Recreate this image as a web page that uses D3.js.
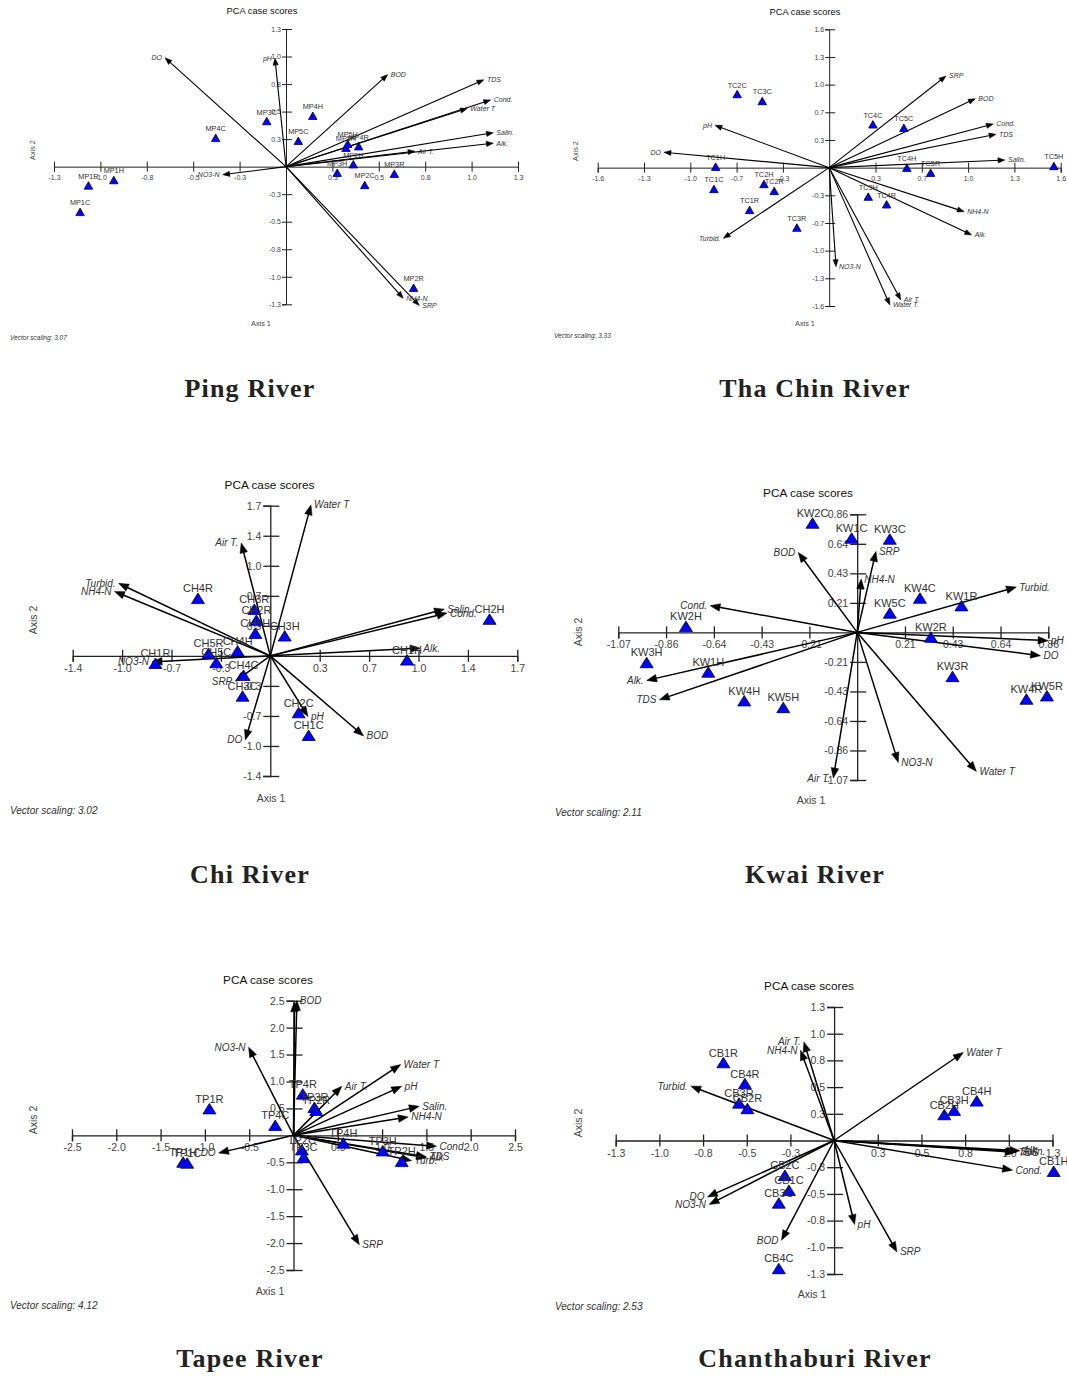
<!DOCTYPE html>
<html><head><meta charset="utf-8">
<script src="https://cdn.jsdelivr.net/npm/d3@7"></script>
<style>body{margin:0;background:#fff}svg{display:block}</style>
</head><body>
<svg id="c" width="1067" height="1379"></svg>
<script>
// ---------- DATA ----------
const riverNames = ["Ping River","Tha Chin River","Chi River","Kwai River","Tapee River","Chanthaburi River"];
const vectorScaling = ["3.07","3.33","3.02","2.11","4.12","2.53"];

const pingTicks = [-1.3,-1.04,-0.78,-0.52,-0.26,0.26,0.52,0.78,1.04,1.3];
const pingTickLabels = ["-1.3","-1.0","-0.8","-0.5","-0.3","0.3","0.5","0.8","1.0","1.3"];
const pingVectors = [["DO",-0.678,1.028],["pH",-0.062,1.025],["BOD",0.570,0.870],["TDS",1.109,0.820],["Cond.",1.147,0.630],["Water T",1.016,0.550],["Salin.",1.162,0.320],["Alk.",1.162,0.222],["Air T.",0.723,0.146],["NO3-N",-0.355,-0.076],["NH4-N",0.657,-1.243],["SRP",0.747,-1.312]];
const pingSites = [["MP1C",-1.154,-0.427],["MP1R",-1.107,-0.177],["MP1H",-0.965,-0.126],["MP4C",-0.394,0.272],["MP3C",-0.108,0.431],["MP4H",0.150,0.481],["MP5C",0.069,0.244],["MP5R",0.336,0.179],["MP5H",0.346,0.217],["MP4R",0.407,0.193],["MP2H",0.377,0.023],["MP3H",0.287,-0.057],["MP2C",0.441,-0.173],["MP3R",0.607,-0.066],["MP2R",0.715,-1.143]];

const thachinTicks = [-1.625,-1.3,-0.975,-0.65,-0.325,0.325,0.65,0.975,1.3,1.625];
const thachinTickLabels = ["-1.6","-1.3","-1.0","-0.7","-0.3","0.3","0.7","1.0","1.3","1.6"];
const thachinVectors = [["SRP",0.820,1.077],["BOD",1.026,0.810],["Cond.",1.152,0.513],["TDS",1.171,0.392],["Salin.",1.234,0.090],["NH4-N",0.948,-0.517],["Alk.",1.000,-0.791],["NO3-N",0.048,-1.163],["Air T.",0.503,-1.554],["Water T.",0.426,-1.613],["pH",-0.802,0.497],["DO",-1.160,0.180],["Turbid.",-0.743,-0.830]];
const thachinSites = [["TC2C",-0.646,0.865],["TC3C",-0.470,0.783],["TC1H",-0.797,0.012],["TC1C",-0.809,-0.250],["TC2H",-0.458,-0.191],["TC2R",-0.386,-0.273],["TC1R",-0.559,-0.496],["TC3R",-0.227,-0.704],["TC4C",0.307,0.509],["TC5C",0.524,0.469],["TC4H",0.545,0.0],["TC5R",0.712,-0.059],["TC5H",1.577,0.020],["TC3H",0.274,-0.340],["TC4R",0.403,-0.430]];

const chiTicks = [-1.36,-1.02,-0.68,-0.34,0.34,0.68,1.02,1.36,1.7];
const chiTickLabels = ["-1.4","-1.0","-0.7","-0.3","0.3","0.7","1.0","1.4","1.7"];
const chiVectors = [["Water T",0.280,1.709],["Air T.",-0.200,1.278],["Turbid.",-1.044,0.821],["NH4-N",-1.072,0.730],["NO3-N",-0.814,-0.068],["SRP",-0.241,-0.287],["DO",-0.172,-0.952],["Cond.",1.216,0.484],["Salin.",1.198,0.529],["Alk.",1.032,0.087],["pH",0.259,-0.687],["BOD",0.642,-0.907]];
const chiSites = [["CH4R",-0.498,0.651],["CH3R",-0.110,0.529],["CH2R",-0.096,0.405],["CH5H",-0.103,0.257],["CH4H",-0.225,0.057],["CH5R",-0.425,0.031],["CH5C",-0.372,-0.075],["CH1R",-0.791,-0.083],["CH4C",-0.184,-0.219],["CH3C",-0.191,-0.454],["CH3H",0.099,0.227],["CH1H",0.941,-0.045],["CH2H",1.509,0.416],["CH2C",0.195,-0.642],["CH1C",0.264,-0.899]];

const kwaiTicks = [-1.07,-0.856,-0.642,-0.428,-0.214,0.214,0.428,0.642,0.856];
const kwaiTickLabels = ["-1.07","-0.86","-0.64","-0.43","-0.21","0.21","0.43","0.64","0.86"];
const kwaiVectors = [["BOD",-0.264,0.580],["SRP",0.084,0.587],["NH4-N",0.018,0.387],["Turbid.",0.713,0.329],["pH",0.855,-0.060],["DO",0.821,-0.169],["Water T",0.534,-1.008],["NO3-N",0.184,-0.943],["Air T.",-0.107,-1.056],["Cond.",-0.659,0.194],["Alk.",-0.943,-0.348],["TDS",-0.886,-0.488]];
const kwaiSites = [["KW2C",-0.200,0.793],["KW1C",-0.025,0.684],["KW3C",0.146,0.677],["KW4C",0.281,0.249],["KW5C",0.146,0.141],["KW1R",0.467,0.194],["KW2R",0.330,-0.033],["KW3R",0.427,-0.319],["KW4R",0.758,-0.483],["KW5R",0.850,-0.459],["KW2H",-0.767,0.044],["KW3H",-0.943,-0.218],["KW1H",-0.667,-0.287],["KW4H",-0.506,-0.495],["KW5H",-0.331,-0.544]];

const tapeeTicks = [-2.5,-2.0,-1.5,-1.0,-0.5,0.5,1.0,1.5,2.0,2.5];
const tapeeTickLabels = ["-2.5","-2.0","-1.5","-1.0","-0.5","0.5","1.0","1.5","2.0","2.5"];
const tapeeVectors = [["",0.011,2.48],["BOD",0.038,2.504],["NO3-N",-0.507,1.636],["DO",-0.845,-0.327],["Water T",1.209,1.314],["Air T.",0.545,0.911],["pH",1.220,0.911],["Salin.",1.419,0.539],["NH4-N",1.295,0.342],["Cond.",1.615,-0.204],["TDS",1.50,-0.40],["Alk",1.502,-0.420],["Turb.",1.333,-0.470],["SRP",0.743,-2.032]];
const tapeeSites = [["TP1R",-0.949,0.496],["TP1H",-1.245,-0.495],["TP1C",-1.200,-0.513],["TP4C",-0.206,0.186],["TP4R",0.105,0.770],["TP3R",0.236,0.520],["TP2R",0.256,0.465],["TP4H",0.563,-0.141],["TP3H",1.007,-0.284],["TP2H",1.221,-0.483],["TP2C",0.094,-0.266],["TP3C",0.113,-0.409]];

const chanTicks = [-1.3,-1.04,-0.78,-0.52,-0.26,0.26,0.52,0.78,1.04,1.3];
const chanTickLabels = ["-1.3","-1.0","-0.8","-0.5","-0.3","0.3","0.5","0.8","1.0","1.3"];
const chanVectors = [["Air T.",-0.180,0.960],["NH4-N",-0.200,0.879],["Turbid.",-0.853,0.529],["DO",-0.754,-0.549],["NO3-N",-0.744,-0.623],["BOD",-0.313,-0.971],["Water T",0.769,0.857],["pH",0.122,-0.818],["SRP",0.374,-1.085],["Cond.",1.062,-0.289],["TDS",1.08,-0.115],["Salin.",1.09,-0.108],["Alk.",1.106,-0.100]];
const chanSites = [["CB1R",-0.659,0.759],["CB4R",-0.531,0.555],["CB3R",-0.566,0.366],["CB2R",-0.516,0.312],["CB2C",-0.293,-0.338],["CB1C",-0.269,-0.484],["CB3C",-0.329,-0.608],["CB4C",-0.329,-1.246],["CB2H",0.656,0.253],["CB3H",0.714,0.295],["CB4H",0.849,0.386],["CB1H",1.307,-0.299]];

// ---------- LAYOUT ----------
const panels = [
 {ticks:pingTicks,labels:pingTickLabels,vectors:pingVectors,sites:pingSites,xr:[54,518],yr:[304.3,29],title:[262,11],ax1:[261,323],ax2:[32,150],vs:[10,338],river:[250,388],small:true},
 {ticks:thachinTicks,labels:thachinTickLabels,vectors:thachinVectors,sites:thachinSites,xr:[597.7,1060.7],yr:[306,29.3],title:[805,12],ax1:[805,323],ax2:[575,151],vs:[554,335.5],river:[815,388],small:true},
 {ticks:chiTicks,labels:chiTickLabels,vectors:chiVectors,sites:chiSites,xr:[72.7,517.3],yr:[776,505.7],title:[269.5,485],ax1:[271,798],ax2:[33,620],vs:[10,810],river:[250,874],small:false},
 {ticks:kwaiTicks,labels:kwaiTickLabels,vectors:kwaiVectors,sites:kwaiSites,xr:[618.3,1048.3],yr:[780,514.3],title:[808,493],ax1:[811,800.5],ax2:[578,632],vs:[555,812.7],river:[815,874],small:false},
 {ticks:tapeeTicks,labels:tapeeTickLabels,vectors:tapeeVectors,sites:tapeeSites,xr:[72,515],yr:[1270,1000.7],title:[268,979.5],ax1:[270,1291],ax2:[33,1120],vs:[10,1305],river:[250,1358],small:false},
 {ticks:chanTicks,labels:chanTickLabels,vectors:chanVectors,sites:chanSites,xr:[615.7,1052.5],yr:[1274,1007],title:[809,986],ax1:[812,1294],ax2:[578,1123],vs:[555,1306.7],river:[815,1358],small:false}
];
const SMALL = {tick:7,site:7.3,vec:7,title:9.3,ax:7.3,vs:6.5,triW:8.5,triH:7.5,head:7,hw:2.6,axisW:1,vecW:1.1,xt:5,xlab:13.5,yl:4,yr:6,ylab:5,siteDy:-6.5};
const LARGE = {tick:10.5,site:11,vec:10,title:11.8,ax:10.5,vs:10,triW:13,triH:10.5,head:10,hw:3.8,axisW:1.3,vecW:1.5,xt:6,xlab:16,yl:7,yr:9,ylab:9,siteDy:-6};
const FONT = "'Liberation Sans', Arial, sans-serif";

const svg = d3.select("#c");

panels.forEach((p,i)=>{
  const s = p.small ? SMALL : LARGE;
  const d0 = p.ticks[0], d1 = p.ticks[p.ticks.length-1];
  const x = d3.scaleLinear().domain([d0,d1]).range(p.xr);
  const y = d3.scaleLinear().domain([d0,d1]).range(p.yr);
  const ox = x(0), oy = y(0);
  const g = svg.append("g").attr("font-family",FONT);

  g.append("text").attr("x",p.title[0]).attr("y",p.title[1]).attr("dy","0.35em").attr("text-anchor","middle")
    .attr("font-size",s.title).attr("fill","#111").text("PCA case scores");

  const xa = g.append("g").attr("transform",`translate(0,${oy})`)
    .call(d3.axisBottom(x).tickValues(p.ticks).tickFormat((d,j)=>p.labels[j]).tickSizeOuter(0).tickSize(s.xt));
  xa.select(".domain").attr("stroke","#222").attr("stroke-width",s.axisW);
  xa.selectAll(".tick line").attr("y1",-s.xt).attr("y2",s.xt).attr("stroke","#222").attr("stroke-width",s.axisW);
  xa.selectAll(".tick text").attr("y",s.xlab).attr("dy",null).attr("font-size",s.tick).attr("fill","#444").attr("font-family",FONT);

  const ya = g.append("g").attr("transform",`translate(${ox},0)`)
    .call(d3.axisLeft(y).tickValues(p.ticks).tickFormat((d,j)=>p.labels[j]).tickSizeOuter(0).tickSize(s.yl));
  ya.select(".domain").attr("stroke","#222").attr("stroke-width",s.axisW);
  ya.selectAll(".tick line").attr("x1",-s.yl).attr("x2",s.yr).attr("stroke","#222").attr("stroke-width",s.axisW);
  ya.selectAll(".tick text").attr("x",-s.ylab).attr("font-size",s.tick).attr("fill","#444").attr("font-family",FONT);

  const vg = g.append("g");
  p.vectors.forEach(([name,vx,vy])=>{
    const tx=x(vx), ty=y(vy);
    const dx=tx-ox, dy=ty-oy, L=Math.hypot(dx,dy), ux=dx/L, uy=dy/L;
    const bx=tx-ux*s.head, by=ty-uy*s.head;
    vg.append("line").attr("x1",ox).attr("y1",oy).attr("x2",bx+ux*2).attr("y2",by+uy*2)
      .attr("stroke","#000").attr("stroke-width",s.vecW);
    vg.append("path").attr("d",`M${tx},${ty}L${bx-uy*s.hw},${by+ux*s.hw}L${bx+uy*s.hw},${by-ux*s.hw}Z`)
      .attr("fill","#000").attr("stroke","#000").attr("stroke-width",0.5);
  });

  const sg = g.append("g");
  p.sites.forEach(([name,sx,sy])=>{
    const cx=x(sx), cy=y(sy);
    sg.append("path").attr("d",`M${cx},${cy-s.triH/2}L${cx+s.triW/2},${cy+s.triH/2}L${cx-s.triW/2},${cy+s.triH/2}Z`)
      .attr("fill","#0000ff").attr("stroke","#000033").attr("stroke-width",0.8);
  });

  p.vectors.forEach(([name,vx,vy])=>{
    if(!name) return;
    const tx=x(vx), ty=y(vy), right = tx>=ox;
    g.append("text").attr("x",tx+(right?3:-3)).attr("y",ty).attr("dy","0.35em")
      .attr("text-anchor",right?"start":"end").attr("font-style","italic")
      .attr("font-size",s.vec).attr("fill","#333").text(name);
  });
  p.sites.forEach(([name,sx,sy])=>{
    g.append("text").attr("x",x(sx)).attr("y",y(sy)+s.siteDy).attr("text-anchor","middle")
      .attr("font-size",s.site).attr("fill","#333").text(name);
  });

  g.append("text").attr("x",p.ax1[0]).attr("y",p.ax1[1]).attr("dy","0.35em").attr("text-anchor","middle")
    .attr("font-size",s.ax).attr("fill","#444").text("Axis 1");
  g.append("text").attr("transform",`translate(${p.ax2[0]},${p.ax2[1]}) rotate(-90)`).attr("dy","0.35em")
    .attr("text-anchor","middle").attr("font-size",s.ax).attr("fill","#444").text("Axis 2");
  g.append("text").attr("x",p.vs[0]).attr("y",p.vs[1]).attr("dy","0.35em").attr("font-style","italic")
    .attr("font-size",s.vs).attr("fill","#333").text("Vector scaling: " + vectorScaling[i]);

  svg.append("text").attr("x",p.river[0]).attr("y",p.river[1]).attr("dy","0.35em").attr("text-anchor","middle")
    .attr("font-family","'Liberation Serif', 'DejaVu Serif', serif").attr("font-weight","bold")
    .attr("font-size",26).attr("letter-spacing",1.2).attr("fill","#222").text(riverNames[i]);
});
</script>
</body></html>
